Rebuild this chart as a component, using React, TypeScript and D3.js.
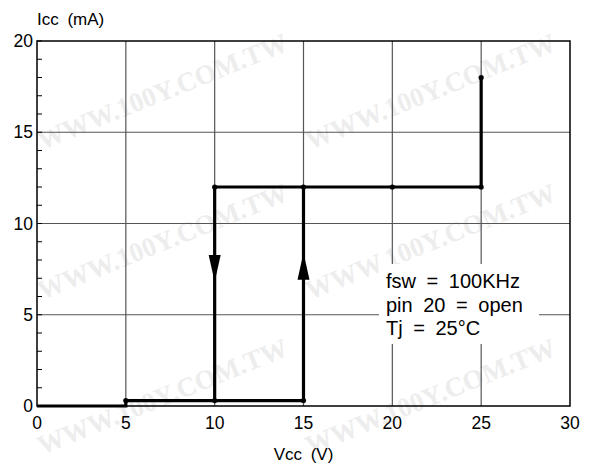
import React from "react";
import * as d3 from "d3";

const W = 590;
const H = 468;

// Hysteresis path (Vcc, Icc)
const vccPath = [0, 5, 5, 10, 15, 15, 25, 25];
const iccPath = [0, 0, 0.3, 0.3, 0.3, 12, 12, 18];
// Return branch on decreasing Vcc
const vccReturn = [15, 10, 10];
const iccReturn = [12, 12, 0.3];
// Marker dots
const dotVcc = [5, 10, 15, 10, 15, 20, 25, 25];
const dotIcc = [0.3, 0.3, 0.3, 12, 12, 12, 12, 18];
// Arrows: x, y at tip, direction
const arrowVcc = [10, 15];
const arrowIcc = [6.8, 8.4];
const arrowDir = [-1, 1];

const xTicks = [0, 5, 10, 15, 20, 25, 30];
const yTicks = [0, 5, 10, 15, 20];
const yMinor = d3.range(0, 21, 1);
const legendLines = ["fsw = 100KHz", "pin 20 = open", "Tj = 25°C"];
const watermark = "WWW.100Y.COM.TW";

const margin = { left: 37, right: 20, top: 41, bottom: 62 };

export default function App() {
  const x = d3.scaleLinear().domain([0, 30]).range([margin.left, W - margin.right]);
  const y = d3.scaleLinear().domain([0, 20]).range([H - margin.bottom, margin.top]);
  const line = d3
    .line<number>()
    .x((_, i) => x(vccPath[i]))
    .y((d) => y(d));
  const line2 = d3
    .line<number>()
    .x((_, i) => x(vccReturn[i]))
    .y((d) => y(d));

  const font = "Liberation Sans, Arial, Helvetica, sans-serif";
  const wm: { x: number; y: number }[] = [];
  const rows = [150, 300, 455];
  rows.forEach((ry) => {
    [42, 310].forEach((cx) => wm.push({ x: cx, y: ry }));
  });

  return (
    <svg width={W} height={H} style={{ position: "absolute", left: 0, top: 0, background: "#fff" }}>
      <rect width={W} height={H} fill="#fff" />
      {/* watermark */}
      <g fill="#ededed" fontFamily="Liberation Serif, DejaVu Serif, serif" fontWeight="bold" fontSize={27}>
        {wm.map((p, i) => (
          <text key={i} x={p.x} y={p.y} transform={`rotate(-22 ${p.x} ${p.y})`}>
            {watermark}
          </text>
        ))}
      </g>
      {/* grid */}
      <g stroke="#555" strokeWidth={1.2}>
        {xTicks.slice(1, -1).map((t) => (
          <line key={"gx" + t} x1={x(t)} x2={x(t)} y1={y(0)} y2={y(20)} />
        ))}
        {yTicks.slice(1, -1).map((t) => (
          <line key={"gy" + t} x1={x(0)} x2={x(30)} y1={y(t)} y2={y(t)} />
        ))}
      </g>
      {/* minor ticks */}
      <g stroke="#000" strokeWidth={1}>
        {yMinor.map((t) => (
          <line key={"m" + t} x1={x(0)} x2={x(0) + 5} y1={y(t)} y2={y(t)} />
        ))}
      </g>
      {/* legend box */}
      <rect x={379} y={264} width={160} height={80} fill="#fff" />
      <g fontFamily={font} fontSize={20} fill="#000" wordSpacing={5}>
        {legendLines.map((s, i) => (
          <text key={s} x={386} y={288 + i * 23.5}>
            {s}
          </text>
        ))}
      </g>
      {/* frame */}
      <rect
        x={x(0)}
        y={y(20)}
        width={x(30) - x(0)}
        height={y(0) - y(20)}
        fill="none"
        stroke="#000"
        strokeWidth={1.5}
      />
      {/* data */}
      <path d={line(iccPath) || ""} fill="none" stroke="#000" strokeWidth={3.2} />
      <path d={line2(iccReturn) || ""} fill="none" stroke="#000" strokeWidth={3.2} />
      {dotVcc.map((v, i) => (
        <circle key={"d" + i} cx={x(v)} cy={y(dotIcc[i])} r={2.6} fill="#000" />
      ))}
      {arrowVcc.map((v, i) => {
        const tx = x(v);
        const ty = y(arrowIcc[i]);
        const dir = arrowDir[i];
        const len = 27;
        const hw = 6;
        const by = ty + dir * len;
        return (
          <path
            key={"a" + i}
            d={`M${tx},${ty} L${tx - hw},${by} L${tx + hw},${by} Z`}
            fill="#000"
          />
        );
      })}
      {/* tick labels */}
      <g fontFamily={font} fontSize={17.5} fill="#000">
        {xTicks.map((t) => (
          <text key={"xl" + t} x={x(t)} y={y(0) + 23} textAnchor="middle">
            {t}
          </text>
        ))}
        {yTicks.map((t) => (
          <text key={"yl" + t} x={x(0) - 4} y={y(t) + 6} textAnchor="end">
            {t}
          </text>
        ))}
        <text x={x(15)} y={460} textAnchor="middle" fontSize={17} wordSpacing={4}>
          Vcc (V)
        </text>
        <text x={37} y={25} fontSize={17} wordSpacing={4}>
          Icc (mA)
        </text>
      </g>
    </svg>
  );
}
